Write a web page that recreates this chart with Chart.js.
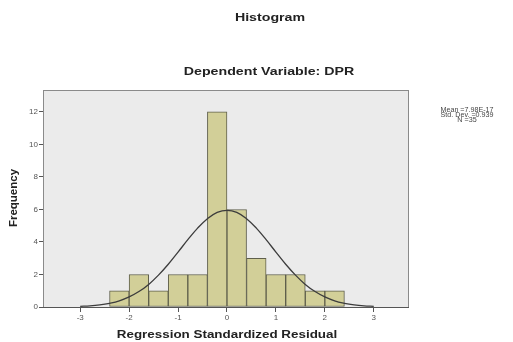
<!DOCTYPE html>
<html>
<head>
<meta charset="utf-8">
<script src="https://cdn.jsdelivr.net/npm/chart.js@4/dist/chart.umd.min.js"></script>
<style>
html,body{margin:0;padding:0;background:#fff;}
#wrap{width:513px;height:342px;}
</style>
</head>
<body>
<div id="wrap"><canvas id="c" width="513" height="342"></canvas></div>
<script>
// Histogram bins (centres of 0.4-wide bins) and frequencies
const binCenters = [-2.2, -1.8, -1.4, -1.0, -0.6, -0.2, 0.2, 0.6, 1.0, 1.4, 1.8, 2.2];
const frequencies = [1, 2, 1, 2, 2, 12, 6, 3, 2, 2, 1, 1];

// Normal curve
const curveX = [-3.0, -2.8, -2.6, -2.4, -2.2, -2.0, -1.8, -1.6, -1.4, -1.2, -1.0, -0.8, -0.6, -0.4, -0.2, 0,
                 0.2, 0.4, 0.6, 0.8, 1.0, 1.2, 1.4, 1.6, 1.8, 2.0, 2.2, 2.4, 2.6, 2.8, 3.0];
const curveY = [0.04, 0.07, 0.13, 0.23, 0.38, 0.62, 0.95, 1.39, 1.96, 2.63, 3.38, 4.14, 4.85, 5.43, 5.82, 5.95,
                 5.82, 5.43, 4.85, 4.14, 3.38, 2.63, 1.96, 1.39, 0.95, 0.62, 0.38, 0.23, 0.13, 0.07, 0.04];

const xTicks = [-3, -2, -1, 0, 1, 2, 3];
const yTicks = [0, 2, 4, 6, 8, 10, 12];

const chartTitle = "Histogram";
const chartSubtitle = "Dependent Variable: DPR";
const statsLines = ["Mean =7.98E-17", "Std. Dev. =0.939", "N =35"];
const xTitle = "Regression Standardized Residual";
const yTitle = "Frequency";

const FONT = "'Liberation Sans', Arial, sans-serif";

function wideText(ctx, text, x, y, sx, rot) {
  ctx.save();
  ctx.translate(x, y);
  if (rot) ctx.rotate(rot);
  ctx.scale(sx, 1);
  ctx.fillText(text, 0, 0);
  ctx.restore();
}

const framePlugin = {
  id: 'frame',
  beforeDraw(chart) {
    const {ctx, chartArea: a} = chart;
    ctx.save();
    ctx.fillStyle = '#ebebeb';
    ctx.fillRect(a.left, a.top, a.right - a.left, a.bottom - a.top);
    ctx.restore();
  },
  afterDraw(chart) {
    const {ctx, chartArea: a} = chart;
    ctx.save();
    ctx.strokeStyle = '#8a8a8a';
    ctx.lineWidth = 1;
    ctx.strokeRect(a.left + 0.5, a.top + 0.5, a.right - a.left - 1, a.bottom - a.top);
    ctx.strokeStyle = '#555';
    ctx.beginPath();
    ctx.moveTo(a.left, a.bottom + 0.5); ctx.lineTo(a.right, a.bottom + 0.5);
    ctx.stroke();
    ctx.fillStyle = '#222';
    ctx.textAlign = 'center';
    ctx.textBaseline = 'middle';
    ctx.font = "bold 10px " + FONT;
    wideText(ctx, chartTitle, 270, 18, 1.42);
    wideText(ctx, chartSubtitle, 269, 72, 1.42);
    wideText(ctx, xTitle, 227, 335, 1.34);
    wideText(ctx, yTitle, 14, 198, 1.15, -Math.PI / 2);
    ctx.fillStyle = '#444';
    ctx.font = "6.5px " + FONT;
    statsLines.forEach((t, i) => wideText(ctx, t, 467, 110 + i * 5.2, 1.1));
    ctx.restore();
  }
};

new Chart(document.getElementById('c'), {
  data: {
    datasets: [
      {
        type: 'line',
        order: 0,
        data: curveX.map((x, i) => ({x: x, y: curveY[i]})),
        borderColor: '#3c3c3c',
        borderWidth: 1.3,
        pointRadius: 0,
        fill: false,
        tension: 0.4
      },
      {
        type: 'bar',
        order: 1,
        data: binCenters.map((x, i) => ({x: x, y: frequencies[i]})),
        backgroundColor: 'rgb(210,207,152)',
        borderColor: 'rgb(95,95,75)',
        borderWidth: 1,
        borderSkipped: false,
        barPercentage: 1,
        categoryPercentage: 1
      }
    ]
  },
  options: {
    responsive: false,
    animation: false,
    layout: {padding: {left: 0, top: 90, right: 104, bottom: 0}},
    plugins: {legend: {display: false}, tooltip: {enabled: false}},
    scales: {
      x: {
        type: 'linear',
        offset: false,
        min: -3.76,
        max: 3.72,
        afterBuildTicks: s => { s.ticks = xTicks.map(v => ({value: v})); },
        afterFit: s => { s.height = 35; },
        grid: {drawOnChartArea: false, offset: false, tickLength: 5, color: '#555'},
        border: {display: false},
        ticks: {font: {family: FONT, size: 8}, color: '#555', padding: 1, maxRotation: 0, autoSkip: false},
        title: {display: false, text: xTitle}
      },
      y: {
        type: 'linear',
        min: 0,
        max: 13.35,
        afterBuildTicks: s => { s.ticks = yTicks.map(v => ({value: v})); },
        afterFit: s => { s.width = 43; },
        grid: {drawOnChartArea: false, tickLength: 4, color: '#555'},
        border: {display: true, color: '#555'},
        ticks: {font: {family: FONT, size: 8}, color: '#555', padding: 1, autoSkip: false},
        title: {display: false, text: yTitle}
      }
    }
  },
  plugins: [framePlugin]
});
</script>
</body>
</html>
